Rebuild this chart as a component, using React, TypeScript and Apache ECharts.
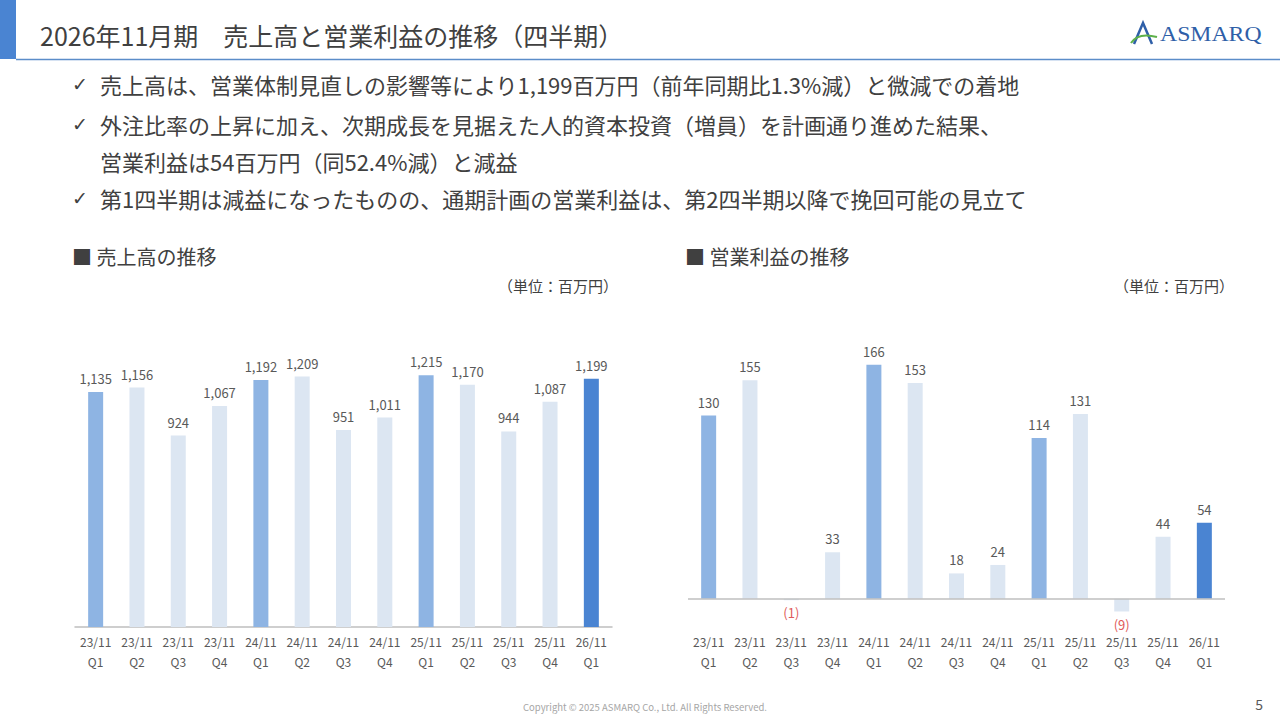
import React, { useEffect, useRef } from "react";
import * as echarts from "echarts";

const categories = [
  "23/11\nQ1", "23/11\nQ2", "23/11\nQ3", "23/11\nQ4",
  "24/11\nQ1", "24/11\nQ2", "24/11\nQ3", "24/11\nQ4",
  "25/11\nQ1", "25/11\nQ2", "25/11\nQ3", "25/11\nQ4",
  "26/11\nQ1",
];
const salesValues = [1135, 1156, 924, 1067, 1192, 1209, 951, 1011, 1215, 1170, 944, 1087, 1199];
const profitValues = [130, 155, -1, 33, 166, 153, 18, 24, 114, 131, -9, 44, 54];

const titleText = "2026年11月期　売上高と営業利益の推移（四半期）";
const bulletLines = [
  { check: true, text: "売上高は、営業体制見直しの影響等により1,199百万円（前年同期比1.3%減）と微減での着地" },
  { check: true, text: "外注比率の上昇に加え、次期成長を見据えた人的資本投資（増員）を計画通り進めた結果、" },
  { check: false, text: "営業利益は54百万円（同52.4%減）と減益" },
  { check: true, text: "第1四半期は減益になったものの、通期計画の営業利益は、第2四半期以降で挽回可能の見立て" },
];
const salesHeading = "■ 売上高の推移";
const profitHeading = "■ 営業利益の推移";
const unitText = "（単位：百万円）";
const copyrightText = "Copyright © 2025 ASMARQ Co., Ltd. All Rights Reserved.";
const pageNumber = "5";

const FONT = '"Noto Sans CJK JP", "Noto Sans", sans-serif';
const TEXT = "#404040";
const LABEL = "#595959";
const C_Q1 = "#8EB4E3";
const C_OTHER = "#DCE6F2";
const C_LAST = "#4A84D2";
const NEG = "#E05A5A";

function barColor(idx: number) {
  if (idx === categories.length - 1) return C_LAST;
  return categories[idx].endsWith("Q1") ? C_Q1 : C_OTHER;
}

function fmt(v: number) {
  return v < 0 ? `(${-v})` : v.toLocaleString("en-US");
}

export default function App() {
  const ref = useRef<HTMLDivElement>(null);
  useEffect(() => {
    if (!ref.current) return;
    const chart = echarts.init(ref.current, undefined, { renderer: "svg" });

    const bulletYs = [84, 124, 161, 198];
    const graphics: any[] = [
      { type: "rect", shape: { x: 0, y: 0, width: 16, height: 59 }, style: { fill: "#4A84D2" } },
      { type: "line", shape: { x1: 16, y1: 59.5, x2: 1280, y2: 59.5 }, style: { stroke: "#5B8DC9", lineWidth: 1.5 } },
      {
        type: "text", x: 40, y: 35,
        style: { text: titleText, font: `25px ${FONT}`, fill: TEXT, textVerticalAlign: "middle" },
      },
      // logo
      { type: "polyline", shape: { points: [[1134, 44], [1143, 23], [1152, 44]] }, style: { stroke: "#2F5FA8", lineWidth: 2.5, fill: "none" } },
      { type: "bezierCurve", shape: { x1: 1131, y1: 43, cpx1: 1138, cpy1: 32, x2: 1157, y2: 37 }, style: { stroke: "#5DB04A", lineWidth: 2, fill: "none" } },
      {
        type: "text", x: 1160, y: 34, scaleX: 1.08,
        style: { text: "ASMARQ", font: `22px "Liberation Serif", "DejaVu Serif", serif`, fill: "#2F5FA8", textVerticalAlign: "middle" },
      },
      {
        type: "text", x: 72, y: 256,
        style: { text: salesHeading, font: `20px ${FONT}`, fill: TEXT, textVerticalAlign: "middle" },
      },
      {
        type: "text", x: 685, y: 256,
        style: { text: profitHeading, font: `20px ${FONT}`, fill: TEXT, textVerticalAlign: "middle" },
      },
      {
        type: "text", x: 618, y: 285,
        style: { text: unitText, font: `15px ${FONT}`, fill: TEXT, textAlign: "right", textVerticalAlign: "middle" },
      },
      {
        type: "text", x: 1234, y: 285,
        style: { text: unitText, font: `15px ${FONT}`, fill: TEXT, textAlign: "right", textVerticalAlign: "middle" },
      },
      {
        type: "text", x: 523, y: 707,
        style: { text: copyrightText, font: `9.5px ${FONT}`, fill: "#A6A6A6", textVerticalAlign: "middle" },
      },
      {
        type: "text", x: 1263, y: 704,
        style: { text: pageNumber, font: `14px ${FONT}`, fill: LABEL, textAlign: "right", textVerticalAlign: "middle" },
      },
    ];
    bulletLines.forEach((b, i) => {
      if (b.check) {
        graphics.push({
          type: "text", x: 72, y: bulletYs[i],
          style: { text: "✓", font: `19px "DejaVu Sans", sans-serif`, fill: TEXT, textVerticalAlign: "middle" },
        });
      }
      graphics.push({
        type: "text", x: 100, y: bulletYs[i],
        style: { text: b.text, font: `22px ${FONT}`, fill: TEXT, textVerticalAlign: "middle" },
      });
    });

    const xAxisCommon = {
      type: "category",
      data: categories,
      boundaryGap: true,
      axisTick: { show: false },
      axisLabel: { color: LABEL, fontSize: 12, lineHeight: 20, margin: 4, fontFamily: FONT, interval: 0 },
    };

    const makeSeries = (values: number[], idx: number) => ({
      type: "bar",
      xAxisIndex: idx,
      yAxisIndex: idx,
      barWidth: 15,
      data: values.map((v) =>
        v < 0 ? { value: v, label: { position: "bottom", color: NEG, distance: 6 } } : v
      ),
      itemStyle: { color: (p: any) => barColor(p.dataIndex) },
      label: {
        show: true,
        position: "top",
        distance: 7,
        color: LABEL,
        fontSize: 13,
        fontFamily: FONT,
        formatter: (p: any) => fmt(p.value),
      },
      ...(idx === 1
        ? {
            markLine: {
              silent: true,
              symbol: "none",
              label: { show: false },
              lineStyle: { color: "#BFBFBF", width: 1.5, type: "solid" },
              data: [{ yAxis: 0 }],
            },
          }
        : {}),
    });

    chart.setOption({
      animation: false,
      backgroundColor: "#ffffff",
      textStyle: { fontFamily: FONT },
      graphic: graphics,
      grid: [
        { left: 75, width: 537, top: 337, height: 290 },
        { left: 688, width: 537, top: 345, height: 282 },
      ],
      xAxis: [
        { ...xAxisCommon, gridIndex: 0, axisLine: { show: true, lineStyle: { color: "#BFBFBF", width: 1.5 } } },
        { ...xAxisCommon, gridIndex: 1, axisLine: { show: false, onZero: false } },
      ],
      yAxis: [
        { type: "value", gridIndex: 0, min: 0, max: 1400, show: false, splitLine: { show: false } },
        { type: "value", gridIndex: 1, min: -20, max: 180, show: false, splitLine: { show: false } },
      ],
      series: [makeSeries(salesValues, 0), makeSeries(profitValues, 1)],
    });
    return () => chart.dispose();
  }, []);

  return (
    <div style={{ position: "fixed", left: 0, top: 0, width: 1280, height: 720, background: "#fff" }}>
      <div ref={ref} style={{ width: 1280, height: 720 }} />
    </div>
  );
}
